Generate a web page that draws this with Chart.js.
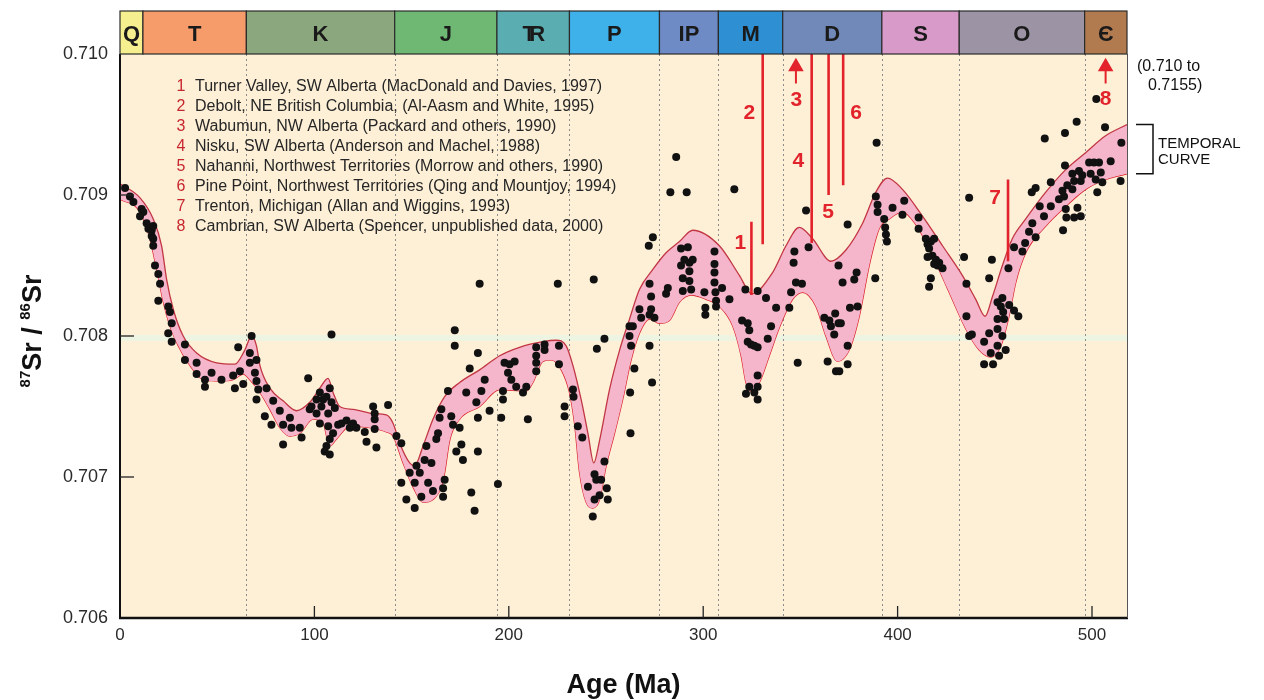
<!DOCTYPE html>
<html>
<head>
<meta charset="utf-8">
<script src="https://cdn.jsdelivr.net/npm/chart.js@4.4.0/dist/chart.umd.min.js"></script>
<style>
  body { margin: 0; background: #fff; }
  canvas { display: block; }
</style>
</head>
<body>
<canvas id="chart" width="1264" height="700"></canvas>
<script>
// geologic periods along the top (ages in Ma)
const periodNames = ['Q', 'T', 'K', 'J', 'TR', 'P', 'IP', 'M', 'D', 'S', 'O', 'Є'];
const periodStart = [0, 11.8, 65, 141.3, 193.9, 231.2, 277.5, 307.8, 340.9, 391.9, 431.7, 496.2];
const periodEnd = 518;
const periodColors = ['#f6ef90', '#f59c6a', '#8ba77d', '#6fb874', '#5aaeb1', '#3fb1ea',
                      '#6f8bc5', '#2e90d2', '#7089b8', '#d89ac8', '#9c94a4', '#b27a4f'];

const xTicks = [0, 100, 200, 300, 400, 500];
const yTicks = [0.706, 0.707, 0.708, 0.709, 0.710];

// temporal curve envelope
const upperAge = [0, 10.3, 17.1, 21.4, 24.0, 27.4, 32.5, 39.4, 49.7, 59.1, 64.2, 67.7, 70.2, 72.0, 77.1, 83.9,
  90.8, 97.6, 102.8, 107.0, 109.6, 113.0, 119.9, 130.2, 137.0, 140.5, 143.9, 149.0, 151.6, 155.9, 161.0, 167.0,
  174.7, 185.0, 195.3, 205.5, 217.5, 224.4, 229.5, 233.0, 237.2, 240.7, 243.7, 246.7, 251.8, 257.0, 262.1, 267.2,
  274.0, 280.9, 287.8, 294.6, 308.3, 318.6, 324.9, 335.7, 342.6, 349.4, 356.3, 365.7, 373.4, 382.0, 388.8, 394.8,
  402.5, 412.8, 423.1, 433.3, 440.2, 445.0, 448.8, 453.9, 459.0, 465.9, 476.2, 486.5, 496.7, 507.0, 518];
const upperSr = [0.70908, 0.70898, 0.70883, 0.70864, 0.70840, 0.70819, 0.70800, 0.70788, 0.70781, 0.70780, 0.70790,
  0.70800, 0.70793, 0.70779, 0.70763, 0.70754, 0.70747, 0.70753, 0.70763, 0.70770, 0.70760, 0.70750, 0.70748,
  0.70745, 0.70744, 0.70738, 0.70724, 0.70710, 0.70708, 0.70722, 0.70741, 0.70757, 0.70767, 0.70776, 0.70786,
  0.70792, 0.70796, 0.70797, 0.70793, 0.70779, 0.70755, 0.70731, 0.70710, 0.70726, 0.70762, 0.70790, 0.70812,
  0.70833, 0.70847, 0.70859, 0.70867, 0.70875, 0.70864, 0.70843, 0.70830, 0.70845, 0.70864, 0.70877, 0.70869,
  0.70853, 0.70861, 0.70880, 0.70902, 0.70912, 0.70904, 0.70885, 0.70864, 0.70843, 0.70826, 0.70814, 0.70828,
  0.70850, 0.70869, 0.70883, 0.70902, 0.70918, 0.70930, 0.70942, 0.70950];
const lowerAge = [0, 10.3, 15.4, 18.9, 22.3, 25.7, 30.0, 36.0, 42.8, 51.4, 58.2, 63.4, 66.8, 72.0, 77.1, 82.2,
  87.4, 92.5, 99.3, 104.5, 107.9, 111.4, 118.2, 128.5, 137.0, 140.5, 145.6, 150.7, 155.9, 161.0, 165.3, 167.0,
  169.6, 174.7, 185.0, 195.3, 209.0, 212.4, 217.5, 221.8, 227.0, 231.2, 233.8, 236.4, 239.8, 243.2, 246.7, 250.1,
  254.4, 258.6, 262.9, 267.2, 272.4, 277.5, 282.6, 287.8, 293.8, 301.5, 308.3, 315.2, 319.5, 322.0, 324.6, 328.9,
  334.0, 339.2, 346.0, 351.1, 358.0, 363.1, 369.1, 375.1, 380.3, 385.4, 390.5, 395.7, 402.5, 409.4, 418.0, 426.5,
  435.1, 442.0, 448.0, 453.1, 457.3, 460.8, 465.9, 476.2, 486.5, 496.7, 507.0, 518];
const lowerSr = [0.70897, 0.70888, 0.70869, 0.70847, 0.70824, 0.70807, 0.70793, 0.70779, 0.70769, 0.70768, 0.70769,
  0.70773, 0.70769, 0.70760, 0.70748, 0.70735, 0.70729, 0.70731, 0.70741, 0.70738, 0.70722, 0.70727, 0.70736,
  0.70735, 0.70732, 0.70729, 0.70710, 0.70693, 0.70682, 0.70684, 0.70693, 0.70703, 0.70726, 0.70741, 0.70750,
  0.70762, 0.70761, 0.70767, 0.70782, 0.70783, 0.70776, 0.70760, 0.70738, 0.70703, 0.70682, 0.70678, 0.70684,
  0.70708, 0.70731, 0.70755, 0.70783, 0.70802, 0.70812, 0.70809, 0.70811, 0.70824, 0.70829, 0.70826, 0.70821,
  0.70807, 0.70786, 0.70767, 0.70761, 0.70767, 0.70786, 0.70806, 0.70826, 0.70831, 0.70821, 0.70800, 0.70782,
  0.70790, 0.70814, 0.70850, 0.70876, 0.70883, 0.70888, 0.70879, 0.70857, 0.70831, 0.70805, 0.70790, 0.70785,
  0.70793, 0.70814, 0.70838, 0.70859, 0.70878, 0.70892, 0.70904, 0.70911, 0.70915];

// measured samples
const sampleAge = [
  2.6, 5.1, 6.9, 11.1, 12.0, 10.3, 13.7, 14.6, 16.3, 17.1,
  16.3, 17.1, 17.1, 18.0, 19.7, 20.6, 19.7, 24.8, 25.7, 26.6,
  24.8, 26.6, 33.4, 33.4, 39.4, 39.4, 43.7, 43.7, 47.1, 52.2,
  58.2, 59.1, 60.8, 61.7, 63.4, 67.7, 66.8, 66.8, 70.2, 69.4,
  70.2, 71.1, 70.2, 75.4, 74.5, 77.9, 78.8, 82.2, 83.9, 83.9,
  87.4, 88.2, 92.5, 93.4, 96.8, 97.6, 98.5, 101.1, 101.1, 102.8,
  103.6, 102.8, 104.5, 106.2, 107.1, 107.9, 108.8, 107.1, 109.6, 107.9,
  106.2, 105.3, 107.9, 110.5, 112.2, 113.9, 116.5, 118.2, 119.9, 121.6,
  125.9, 126.8, 130.2, 131.0, 131.0, 131.0, 131.9, 137.9, 142.2, 144.7,
  144.7, 147.3, 149.0, 151.6, 151.6, 152.5, 154.2, 155.0, 156.7, 157.6,
  158.5, 160.2, 161.0, 162.7, 163.6, 164.4, 165.3, 166.2, 167.0, 166.2,
  168.7, 170.4, 171.3, 173.0, 172.2, 172.2, 174.7, 175.6, 176.4, 178.1,
  179.9, 180.7, 182.4, 183.3, 184.1, 184.1, 184.1, 185.0, 185.9, 187.6,
  190.1, 194.4, 196.1, 197.0, 197.0, 197.8, 199.6, 200.4, 201.3, 203.0,
  203.8, 108.8, 207.3, 209.0, 209.8, 214.1, 214.1, 214.1, 214.1, 218.4,
  218.4, 225.2, 225.8, 225.8, 228.7, 228.7, 233.0, 233.3, 235.5, 237.8,
  240.7, 243.7, 244.1, 245.0, 244.1, 243.2, 247.5, 246.7, 249.2, 250.4,
  250.9, 245.3, 249.2, 262.1, 262.9, 262.1, 263.8, 264.6, 262.4, 262.6,
  267.2, 268.1, 272.4, 273.2, 273.2, 272.4, 274.9, 272.4, 273.7, 272.0,
  280.9, 281.8, 288.6, 290.3, 288.6, 289.5, 289.5, 292.1, 292.9, 292.9,
  292.9, 293.8, 294.6, 300.6, 301.1, 301.1, 305.8, 305.8, 305.8, 305.8,
  306.3, 306.6, 306.6, 309.7, 313.5, 321.7, 328.0, 332.3, 337.5, 320.0,
  322.9, 323.7, 322.9, 324.6, 326.3, 328.0, 334.9, 333.2, 328.0, 328.0,
  323.7, 322.0, 326.3, 328.0, 346.9, 346.5, 347.7, 345.2, 344.3, 348.6,
  350.8, 352.9, 354.2, 362.3, 364.9, 365.7, 367.9, 369.6, 370.8, 367.4,
  364.0, 368.3, 370.0, 374.3, 374.3, 369.6, 371.7, 374.3, 375.5, 377.7,
  378.9, 379.4, 388.5, 388.8, 389.7, 389.7, 393.1, 393.6, 394.0, 394.5,
  397.4, 402.5, 403.4, 410.8, 410.8, 414.5, 415.4, 417.1, 418.8, 416.2,
  415.4, 417.9, 419.7, 421.4, 423.1, 420.5, 418.8, 417.1, 416.2, 434.2,
  436.8, 435.4, 435.4, 436.8, 438.2, 444.5, 444.5, 447.1, 447.1, 448.5,
  447.9, 449.1, 451.4, 451.4, 451.4, 451.4, 453.1, 453.9, 454.3, 454.8,
  452.2, 453.9, 455.6, 457.0, 457.4, 459.9, 462.1, 459.9, 464.2, 465.6,
  467.6, 469.3, 471.0, 469.0, 471.0, 473.1, 475.3, 478.8, 478.8, 483.0,
  484.8, 485.6, 486.1, 487.3, 489.9, 490.8, 489.9, 493.3, 494.2, 495.0,
  486.5, 486.8, 490.8, 492.5, 494.2, 485.1, 498.5, 499.3, 501.0, 501.9,
  503.6, 504.5, 502.7, 505.3, 509.6, 514.7, 286.1, 283.1, 291.5, 316.0,
  274.1, 389.2, 502.2, 492.1, 486.1, 475.7, 506.7, 515.1
];
const sampleSr = [
  0.70905, 0.70899, 0.70895, 0.70890, 0.70888, 0.70885, 0.70880, 0.70876, 0.70875, 0.70878,
  0.70871, 0.70869, 0.70864, 0.70850, 0.70844, 0.70837, 0.70825, 0.70821, 0.70817, 0.70809,
  0.70802, 0.70796, 0.70794, 0.70783, 0.70781, 0.70773, 0.70769, 0.70764, 0.70774, 0.70769,
  0.70772, 0.70763, 0.70792, 0.70775, 0.70766, 0.70800, 0.70788, 0.70781, 0.70783, 0.70774,
  0.70768, 0.70762, 0.70755, 0.70763, 0.70743, 0.70737, 0.70754, 0.70747, 0.70737, 0.70723,
  0.70742, 0.70735, 0.70735, 0.70728, 0.70770, 0.70748, 0.70750, 0.70755, 0.70745, 0.70760,
  0.70750, 0.70738, 0.70755, 0.70757, 0.70745, 0.70763, 0.70753, 0.70736, 0.70731, 0.70727,
  0.70722, 0.70718, 0.70716, 0.70749, 0.70737, 0.70738, 0.70740, 0.70735, 0.70738, 0.70735,
  0.70732, 0.70725, 0.70750, 0.70745, 0.70741, 0.70734, 0.70721, 0.70751, 0.70729, 0.70724,
  0.70696, 0.70684, 0.70703, 0.70678, 0.70696, 0.70708, 0.70703, 0.70686, 0.70712, 0.70722,
  0.70696, 0.70710, 0.70690, 0.70727, 0.70731, 0.70742, 0.70748, 0.70692, 0.70698, 0.70686,
  0.70761, 0.70743, 0.70737, 0.70718, 0.70804, 0.70793, 0.70735, 0.70723, 0.70712, 0.70760,
  0.70777, 0.70689, 0.70676, 0.70753, 0.70788, 0.70742, 0.70718, 0.70837, 0.70761, 0.70769,
  0.70747, 0.70695, 0.70742, 0.70761, 0.70755, 0.70781, 0.70774, 0.70780, 0.70769, 0.70782,
  0.70764, 0.70801, 0.70760, 0.70764, 0.70741, 0.70792, 0.70786, 0.70781, 0.70775, 0.70794,
  0.70790, 0.70837, 0.70793, 0.70780, 0.70750, 0.70743, 0.70762, 0.70757, 0.70736, 0.70728,
  0.70693, 0.70840, 0.70702, 0.70698, 0.70684, 0.70672, 0.70698, 0.70687, 0.70711, 0.70692,
  0.70684, 0.70791, 0.70798, 0.70800, 0.70793, 0.70807, 0.70807, 0.70777, 0.70760, 0.70731,
  0.70819, 0.70813, 0.70837, 0.70828, 0.70819, 0.70815, 0.70813, 0.70793, 0.70767, 0.70864,
  0.70830, 0.70834, 0.70862, 0.70854, 0.70850, 0.70841, 0.70832, 0.70863, 0.70852, 0.70846,
  0.70839, 0.70833, 0.70854, 0.70831, 0.70820, 0.70815, 0.70860, 0.70851, 0.70845, 0.70838,
  0.70831, 0.70825, 0.70821, 0.70834, 0.70826, 0.70833, 0.70832, 0.70827, 0.70820, 0.70811,
  0.70809, 0.70804, 0.70796, 0.70794, 0.70793, 0.70792, 0.70807, 0.70798, 0.70772, 0.70764,
  0.70764, 0.70759, 0.70760, 0.70755, 0.70860, 0.70852, 0.70838, 0.70831, 0.70820, 0.70781,
  0.70837, 0.70889, 0.70863, 0.70813, 0.70811, 0.70807, 0.70816, 0.70809, 0.70809, 0.70801,
  0.70782, 0.70775, 0.70775, 0.70780, 0.70793, 0.70850, 0.70838, 0.70879, 0.70820, 0.70840,
  0.70845, 0.70821, 0.70841, 0.70899, 0.70893, 0.70888, 0.70883, 0.70877, 0.70872, 0.70867,
  0.70891, 0.70886, 0.70896, 0.70884, 0.70876, 0.70869, 0.70865, 0.70867, 0.70869, 0.70862,
  0.70856, 0.70857, 0.70854, 0.70852, 0.70848, 0.70850, 0.70851, 0.70841, 0.70835, 0.70856,
  0.70898, 0.70837, 0.70814, 0.70800, 0.70801, 0.70796, 0.70780, 0.70802, 0.70841, 0.70854,
  0.70788, 0.70780, 0.70793, 0.70805, 0.70812, 0.70824, 0.70821, 0.70827, 0.70817, 0.70812,
  0.70786, 0.70800, 0.70790, 0.70848, 0.70822, 0.70818, 0.70814, 0.70863, 0.70860, 0.70866,
  0.70874, 0.70880, 0.70870, 0.70902, 0.70905, 0.70892, 0.70885, 0.70892, 0.70909, 0.70897,
  0.70903, 0.70899, 0.70921, 0.70907, 0.70915, 0.70910, 0.70904, 0.70917, 0.70910, 0.70914,
  0.70890, 0.70884, 0.70884, 0.70891, 0.70885, 0.70875, 0.70923, 0.70915, 0.70923, 0.70911,
  0.70923, 0.70916, 0.70902, 0.70909, 0.70924, 0.70910, 0.70927, 0.70902, 0.70902, 0.70904,
  0.70870, 0.70937, 0.70968, 0.70952, 0.70944, 0.70940, 0.70948, 0.70937
];

// numbered localities (red markers)
const localityAge = [324.8, 330.6, 347.7, 355.8, 364.5, 372.0, 456.8, 507.0];
const localityTop = [0.70881, 0.710, 0.70991, 0.710, 0.710, 0.710, 0.70911, 0.70991];
const localityBottom = [0.70829, 0.70865, 0.70979, 0.70866, 0.70900, 0.70907, 0.70853, 0.70979];
const localityArrow = [false, false, true, false, false, false, false, true];
const localityLabelAge = [319.1, 323.7, 347.9, 348.9, 364.3, 378.7, 450.2, 507.0];
const localityLabelSr = [0.70866, 0.70958, 0.70967, 0.70924, 0.70888, 0.70958, 0.70898, 0.70968];
const localityRefs = [
  'Turner Valley, SW Alberta (MacDonald and Davies, 1997)',
  'Debolt, NE British Columbia, (Al-Aasm and White, 1995)',
  'Wabumun, NW Alberta (Packard and others, 1990)',
  'Nisku, SW Alberta (Anderson and Machel, 1988)',
  'Nahanni, Northwest Territories (Morrow and others, 1990)',
  'Pine Point, Northwest Territories (Qing and Mountjoy, 1994)',
  'Trenton, Michigan (Allan and Wiggins, 1993)',
  'Cambrian, SW Alberta (Spencer, unpublished data, 2000)'
];

const FONT = '"Liberation Sans", Arial, Helvetica, sans-serif';
const RED = '#e3232b';
Chart.defaults.font.family = FONT;

const samplePoints = sampleAge.map((a, i) => ({ x: a, y: sampleSr[i] }));
const upperLine = upperAge.map((a, i) => ({ x: a, y: upperSr[i] }));
const lowerLine = lowerAge.map((a, i) => ({ x: a, y: lowerSr[i] }));

const datasets = [
  {
    type: 'scatter', data: samplePoints, order: 0,
    pointRadius: 4, pointBackgroundColor: '#111', pointBorderWidth: 0
  },
  {
    type: 'line', data: upperLine, order: 2, fill: '+1',
    backgroundColor: '#f5b6cc', borderColor: '#c23642', borderWidth: 1.3,
    pointRadius: 0, cubicInterpolationMode: 'monotone'
  },
  {
    type: 'line', data: lowerLine, order: 2, fill: false,
    borderColor: '#dc1f2a', borderWidth: 1.3,
    pointRadius: 0, cubicInterpolationMode: 'monotone'
  }
];

localityAge.forEach((a, i) => {
  datasets.push({
    type: 'line', order: 1, fill: false,
    data: [{ x: a, y: localityTop[i] }, { x: a, y: localityBottom[i] }],
    borderColor: RED, borderWidth: localityArrow[i] ? 2 : 2.6, pointRadius: 0
  });
});
datasets.push({
  type: 'scatter', order: 1,
  data: localityAge.map((a, i) => ({ x: a, y: localityTop[i] })).filter((p, i) => localityArrow[i]),
  pointStyle: 'triangle', pointRadius: 9, pointBackgroundColor: RED, pointBorderWidth: 0
});

const decor = {
  id: 'decor',
  beforeDraw(chart) {
    const { ctx, chartArea: a, scales: { x, y } } = chart;
    ctx.save();
    ctx.fillStyle = '#ffffff';
    ctx.fillRect(0, 0, chart.width, chart.height);
    ctx.fillStyle = '#fdf0d7';
    ctx.fillRect(a.left, a.top, a.right - a.left, a.bottom - a.top);

    // pale line along 0.708
    const y708 = y.getPixelForValue(0.708);
    ctx.strokeStyle = 'rgba(236,243,226,0.95)';
    ctx.lineWidth = 6;
    ctx.beginPath(); ctx.moveTo(a.left, y708 + 2); ctx.lineTo(a.right, y708 + 2); ctx.stroke();

    // dotted boundaries between periods
    ctx.strokeStyle = '#8c8c8c';
    ctx.lineWidth = 1;
    ctx.setLineDash([2, 3]);
    periodStart.slice(2).forEach(v => {
      const px = Math.round(x.getPixelForValue(v)) + 0.5;
      ctx.beginPath(); ctx.moveTo(px, a.top); ctx.lineTo(px, a.bottom); ctx.stroke();
    });
    ctx.restore();
  },
  afterDraw(chart) {
    const { ctx, chartArea: a, scales: { x, y } } = chart;
    ctx.save();

    // axes frame and inner ticks
    ctx.strokeStyle = '#111';
    ctx.lineWidth = 2;
    ctx.beginPath(); ctx.moveTo(a.left, a.top); ctx.lineTo(a.left, a.bottom + 1); ctx.stroke();
    ctx.lineWidth = 2.5;
    ctx.beginPath(); ctx.moveTo(a.left - 1, a.bottom); ctx.lineTo(a.right + 1, a.bottom); ctx.stroke();
    ctx.strokeStyle = '#555';
    ctx.lineWidth = 1;
    ctx.beginPath(); ctx.moveTo(a.right + 0.5, a.top); ctx.lineTo(a.right + 0.5, a.bottom); ctx.stroke();
    ctx.strokeStyle = '#222';
    ctx.lineWidth = 1.3;
    xTicks.filter(v => v > 0).forEach(v => {
      const px = x.getPixelForValue(v);
      ctx.beginPath(); ctx.moveTo(px, a.bottom); ctx.lineTo(px, a.bottom - 12); ctx.stroke();
    });
    yTicks.filter(v => v > 0.706 && v < 0.710).forEach(v => {
      const py = y.getPixelForValue(v);
      ctx.beginPath(); ctx.moveTo(a.left, py); ctx.lineTo(a.left + 14, py); ctx.stroke();
    });

    // period band above the plot
    const bandTop = 11;
    ctx.font = 'bold 22px ' + FONT;
    ctx.textAlign = 'center';
    ctx.textBaseline = 'middle';
    periodNames.forEach((name, i) => {
      const x0 = x.getPixelForValue(periodStart[i]);
      const x1 = x.getPixelForValue(i + 1 < periodStart.length ? periodStart[i + 1] : periodEnd);
      ctx.fillStyle = periodColors[i];
      ctx.fillRect(x0, bandTop, x1 - x0, a.top - bandTop);
      ctx.strokeStyle = '#2b2b2b';
      ctx.lineWidth = 1.2;
      ctx.strokeRect(x0, bandTop, x1 - x0, a.top - bandTop);
      ctx.fillStyle = '#1a1a1a';
      const cx = (x0 + x1) / 2, cy = (bandTop + a.top) / 2 + 2;
      if (name === 'TR') {
        ctx.fillText('T', cx - 4, cy);
        ctx.fillText('R', cx + 4, cy);
      } else {
        ctx.fillText(name, cx, cy);
      }
    });

    // reference list
    ctx.font = '16px ' + FONT;
    ctx.textBaseline = 'middle';
    localityRefs.forEach((t, i) => {
      const ry = 87 + i * 19.9;
      ctx.fillStyle = '#c8262d';
      ctx.textAlign = 'center';
      ctx.fillText(String(i + 1), a.left + 61, ry);
      ctx.fillStyle = '#262626';
      ctx.textAlign = 'left';
      ctx.fillText(t, a.left + 75, ry);
    });

    // locality numbers on the plot
    ctx.font = 'bold 21px ' + FONT;
    ctx.fillStyle = RED;
    ctx.textAlign = 'center';
    localityLabelAge.forEach((v, i) => {
      ctx.fillText(String(i + 1), x.getPixelForValue(v), y.getPixelForValue(localityLabelSr[i]));
    });

    // notes on the right
    ctx.fillStyle = '#111';
    ctx.textAlign = 'left';
    ctx.textBaseline = 'alphabetic';
    ctx.font = '16px ' + FONT;
    ctx.fillText('(0.710 to', a.right + 10, a.top + 17);
    ctx.fillText('0.7155)', a.right + 21, a.top + 36);
    const bt = y.getPixelForValue(upperSr[upperSr.length - 1]);
    const bb = y.getPixelForValue(lowerSr[lowerSr.length - 1]);
    ctx.strokeStyle = '#111';
    ctx.lineWidth = 1.5;
    ctx.beginPath();
    ctx.moveTo(a.right + 9, bt); ctx.lineTo(a.right + 26, bt);
    ctx.lineTo(a.right + 26, bb); ctx.lineTo(a.right + 9, bb);
    ctx.stroke();
    ctx.font = '15px ' + FONT;
    ctx.fillText('TEMPORAL', a.right + 31, (bt + bb) / 2 - 1);
    ctx.fillText('CURVE', a.right + 31, (bt + bb) / 2 + 15);

    // axis titles
    ctx.font = 'bold 27px ' + FONT;
    ctx.textAlign = 'center';
    ctx.fillText('Age (Ma)', (a.left + a.right) / 2, 693);

    ctx.translate(41, 331);
    ctx.rotate(-Math.PI / 2);
    const big = 'bold 27px ' + FONT, small = 'bold 15px ' + FONT;
    const parts = [['87', small, -11], ['Sr / ', big, 0], ['86', small, -11], ['Sr', big, 0]];
    let total = 0;
    parts.forEach(p => { ctx.font = p[1]; total += ctx.measureText(p[0]).width; });
    let tx = -total / 2;
    ctx.textAlign = 'left';
    parts.forEach(p => {
      ctx.font = p[1];
      ctx.fillText(p[0], tx, p[2]);
      tx += ctx.measureText(p[0]).width;
    });
    ctx.restore();
  }
};

new Chart(document.getElementById('chart'), {
  type: 'scatter',
  data: { datasets },
  options: {
    responsive: false,
    animation: false,
    events: [],
    layout: { padding: { top: 54, right: 137, left: 0, bottom: 0 } },
    plugins: { legend: { display: false }, tooltip: { enabled: false } },
    scales: {
      x: {
        type: 'linear', min: 0, max: periodEnd,
        grid: { display: false, drawTicks: false },
        border: { display: false },
        ticks: { font: { size: 17 }, color: '#2a2a2a', padding: 7, maxRotation: 0 },
        afterBuildTicks: s => { s.ticks = xTicks.map(v => ({ value: v })); },
        afterFit: s => { s.height = 82; }
      },
      y: {
        type: 'linear', min: 0.706, max: 0.710,
        grid: { display: false, drawTicks: false },
        border: { display: false },
        ticks: { font: { size: 18 }, color: '#2a2a2a', padding: 12, callback: v => v.toFixed(3) },
        afterBuildTicks: s => { s.ticks = yTicks.map(v => ({ value: v })); },
        afterFit: s => { s.width = 120; }
      }
    }
  },
  plugins: [decor]
});
</script>
</body>
</html>
